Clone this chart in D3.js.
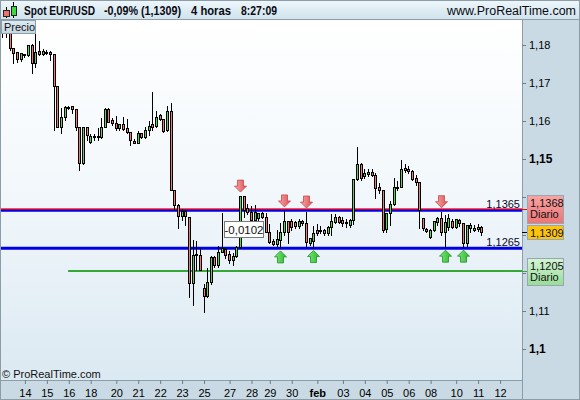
<!DOCTYPE html>
<html>
<head>
<meta charset="utf-8">
<script src="https://cdn.jsdelivr.net/npm/d3@7"></script>
<style>
	body { margin: 0; background: #fff; }
	svg { display: block; font-family: "Liberation Sans", Arial, sans-serif; }
</style>
</head>
<body>
<div id="chart"></div>
<script>
// 4h candles, EUR/USD
var opens = [1.1838,1.1838,1.1831,1.1791,1.1781,1.1762,1.1776,1.1773,1.1800,1.1752,1.1783,1.1776,1.1782,1.1781,1.1776,1.1692,1.1585,1.1611,1.1637,1.1639,
	1.1631,1.1585,1.1490,1.1583,1.1546,1.1560,1.1558,1.1557,1.1585,1.1631,1.1602,1.1594,1.1581,1.1592,1.1581,1.1572,1.1548,1.1543,1.1568,1.1557,
	1.1576,1.1591,1.1587,1.1616,1.1605,1.1576,1.1626,1.1418,1.1379,1.1349,1.1363,1.1347,1.1174,1.1247,1.1247,1.1161,1.1140,1.1177,1.1241,1.1221,
	1.1256,1.1263,1.1250,1.1234,1.1245,1.1269,1.1403,1.1371,1.1360,1.1339,1.1344,1.1359,1.1347,1.1309,1.1284,1.1276,1.1287,1.1309,1.1337,1.1336,
	1.1333,1.1324,1.1337,1.1332,1.1280,1.1284,1.1313,1.1310,1.1313,1.1305,1.1321,1.1334,1.1348,1.1339,1.1331,1.1327,1.1339,1.1447,1.1486,1.1456,
	1.1460,1.1467,1.1458,1.1425,1.1418,1.1316,1.1358,1.1381,1.1427,1.1427,1.1476,1.1474,1.1468,1.1451,1.1440,1.1344,1.1316,1.1296,1.1313,1.1334,
	1.1346,1.1309,1.1322,1.1337,1.1322,1.1339,1.1331,1.1278,1.1318,1.1314,1.1315,1.1320];
var highs = [1.1850,1.1852,1.1850,1.1792,1.1782,1.1779,1.1779,1.1800,1.1804,1.1844,1.1813,1.1791,1.1789,1.1787,1.1777,1.1692,1.1638,1.1642,1.1642,1.1642,
	1.1632,1.1586,1.1585,1.1584,1.1568,1.1568,1.1583,1.1611,1.1636,1.1636,1.1611,1.1616,1.1594,1.1613,1.1607,1.1573,1.1554,1.1576,1.1572,1.1587,
	1.1603,1.1679,1.1629,1.1620,1.1607,1.1642,1.1651,1.1419,1.1384,1.1371,1.1368,1.1349,1.1289,1.1287,1.1269,1.1174,1.1217,1.1247,1.1247,1.1274,
	1.1361,1.1269,1.1261,1.1256,1.1274,1.1405,1.1405,1.1384,1.1379,1.1382,1.1361,1.1362,1.1361,1.1331,1.1291,1.1316,1.1335,1.1366,1.1340,1.1344,
	1.1340,1.1344,1.1342,1.1363,1.1296,1.1326,1.1331,1.1326,1.1318,1.1327,1.1358,1.1357,1.1353,1.1350,1.1344,1.1345,1.1449,1.1534,1.1493,1.1476,
	1.1477,1.1476,1.1467,1.1440,1.1419,1.1360,1.1392,1.1453,1.1445,1.1500,1.1489,1.1484,1.1473,1.1460,1.1441,1.1346,1.1322,1.1318,1.1340,1.1349,
	1.1364,1.1354,1.1357,1.1345,1.1344,1.1345,1.1335,1.1328,1.1334,1.1328,1.1331,1.1326];
var lows = [1.1822,1.1820,1.1787,1.1752,1.1756,1.1758,1.1769,1.1772,1.1725,1.1743,1.1774,1.1774,1.1776,1.1761,1.1576,1.1583,1.1568,1.1603,1.1631,1.1620,
	1.1576,1.1471,1.1488,1.1550,1.1541,1.1550,1.1550,1.1554,1.1584,1.1597,1.1589,1.1576,1.1576,1.1576,1.1568,1.1537,1.1541,1.1541,1.1554,1.1554,
	1.1563,1.1576,1.1585,1.1602,1.1572,1.1574,1.1418,1.1366,1.1318,1.1339,1.1326,1.1137,1.1116,1.1208,1.1207,1.1097,1.1138,1.1172,1.1216,1.1216,
	1.1254,1.1239,1.1226,1.1221,1.1242,1.1266,1.1347,1.1355,1.1334,1.1329,1.1339,1.1344,1.1308,1.1278,1.1274,1.1271,1.1266,1.1300,1.1278,1.1313,
	1.1318,1.1318,1.1326,1.1271,1.1274,1.1267,1.1300,1.1305,1.1300,1.1300,1.1300,1.1331,1.1331,1.1324,1.1320,1.1322,1.1329,1.1445,1.1444,1.1449,
	1.1455,1.1454,1.1398,1.1411,1.1308,1.1308,1.1326,1.1379,1.1418,1.1425,1.1467,1.1463,1.1445,1.1432,1.1318,1.1313,1.1309,1.1291,1.1310,1.1326,
	1.1300,1.1268,1.1313,1.1318,1.1318,1.1324,1.1268,1.1272,1.1309,1.1310,1.1311,1.1300];
var closes = [1.1831,1.1831,1.1791,1.1780,1.1762,1.1778,1.1775,1.1800,1.1752,1.1782,1.1776,1.1784,1.1781,1.1776,1.1692,1.1585,1.1611,1.1636,1.1638,1.1631,
	1.1585,1.1490,1.1583,1.1563,1.1561,1.1559,1.1560,1.1585,1.1631,1.1598,1.1594,1.1581,1.1592,1.1580,1.1572,1.1550,1.1543,1.1568,1.1557,1.1576,
	1.1587,1.1585,1.1611,1.1604,1.1574,1.1626,1.1418,1.1379,1.1349,1.1363,1.1349,1.1174,1.1247,1.1249,1.1208,1.1140,1.1177,1.1241,1.1221,1.1256,
	1.1265,1.1247,1.1234,1.1245,1.1269,1.1403,1.1366,1.1360,1.1339,1.1361,1.1359,1.1347,1.1309,1.1282,1.1276,1.1290,1.1309,1.1337,1.1309,1.1322,
	1.1324,1.1338,1.1332,1.1282,1.1291,1.1304,1.1305,1.1314,1.1305,1.1321,1.1337,1.1348,1.1335,1.1331,1.1334,1.1339,1.1447,1.1486,1.1449,1.1462,
	1.1467,1.1458,1.1423,1.1418,1.1313,1.1358,1.1381,1.1427,1.1425,1.1473,1.1471,1.1468,1.1447,1.1440,1.1366,1.1318,1.1311,1.1313,1.1337,1.1344,
	1.1309,1.1333,1.1344,1.1322,1.1342,1.1331,1.1278,1.1325,1.1327,1.1318,1.1322,1.1309];

// day ticks (candle index) and their labels
var dayIdx = [6,12,18,24,31,37,43,49,55,62,68,73,79,86,93,99,105,111,117,124,130,136];
var dayLabels = ["14","15","16","18","20","21","22","23","25","27","28","29","30","feb","03","04","05","06","08","10","11","12"];

var priceTicks = [1.10,1.11,1.12,1.13,1.14,1.15,1.16,1.17,1.18];
var boldTicks = [1.10,1.14,1.15];

var channel = [1.1365, 1.1265];
var resistDaily = 1.1368, supportDaily = 1.1205, lastPrice = 1.1309;
var supportFrom = 17.8;		// candle index where the daily support starts
var redArrows = [65, 77, 83, 120];	// touches of the upper line
var greenArrows = [76, 85, 121, 126];	// touches of the lower line
var measure = { i: 60.5, price: 1.1338, text: "-0,0102" };

var header = [
	{ text: "Spot EUR/USD", x: 24, w: 71 },
	{ text: "-0,09% (1,1309)", x: 104, w: 77 },
	{ text: "4 horas", x: 191, w: 40 },
	{ text: "8:27:09", x: 241, w: 36 }
];

(function(d3) {

	var W = 580, H = 400;
	var plot = { l: 0, t: 20, r: 522, b: 380 };

	var x = d3.scaleLinear().domain([-0.82, 142]).range([plot.l, plot.r]);
	var y = d3.scaleLinear().domain([1.10, 1.18]).range([349, 45]);
	var fmt = function(v) { return (+(+v).toFixed(4)).toString().replace(".", ","); };
	var px = function(v) { return Math.round(v) + 0.5; };

	var candles = opens.map(function(o, i) {
		return { i: i, o: o, h: highs[i], l: lows[i], c: closes[i] };
	});

	// level boxes on the price panel (they cover the axis labels behind them)
	var boxes = [
		{ v: resistDaily, h: 28, fill: "url(#gRed)", lines: [fmt(resistDaily), "Diario"], tick: "#ff0000" },
		{ v: lastPrice, h: 14, fill: "#fcc40c", lines: [fmt(lastPrice)], tick: "#000" },
		{ v: supportDaily, h: 27, fill: "url(#gGreen)", lines: [fmt(supportDaily), "Diario"], tick: "#35a835" }
	];
	var hidden = function(v) {
		return boxes.some(function(b) { return Math.abs(y(v) - y(b.v)) < b.h / 2 + 5; });
	};

	var svg = d3.select("#chart").append("svg").attr("width", W).attr("height", H);
	var defs = svg.append("defs");

	function grad(id, stops, horiz) {
		var g = defs.append("linearGradient").attr("id", id)
			.attr("x1", 0).attr("y1", 0).attr("x2", horiz ? 1 : 0).attr("y2", horiz ? 0 : 1);
		stops.forEach(function(s) {
			g.append("stop").attr("offset", s[0]).attr("stop-color", s[1]);
		});
	}
	grad("gHead", [[0, "#eef7fb"], [1, "#cfe2eb"]]);
	grad("gPlot", [[0, "#ffffff"], [0.5, "#f1f7fb"], [1, "#dbe9f2"]]);
	grad("gRed", [[0, "#f7a4a4"], [1, "#ee7474"]]);
	grad("gGreen", [[0, "#d4f4d4"], [1, "#98dc98"]]);
	grad("gArrR", [[0, "#f5a8a8"], [1, "#de5252"]], true);
	grad("gArrG", [[0, "#7be87b"], [1, "#2fb82f"]], true);
	grad("gPrecio", [[0, "#dfecf3"], [1, "#c2d6e1"]]);

	// plot background
	svg.append("rect").attr("x", plot.l).attr("y", plot.t)
		.attr("width", plot.r - plot.l).attr("height", plot.b - plot.t).attr("fill", "url(#gPlot)");

	// channel lines + daily levels
	var lines = svg.append("g");
	lines.selectAll(".chan").data(channel).enter().append("line").classed("chan", true)
		.attr("x1", plot.l).attr("x2", plot.r)
		.attr("y1", function(d) { return y(d); }).attr("y2", function(d) { return y(d); })
		.attr("stroke", "#0000e6").attr("stroke-width", 3);
	lines.append("line").attr("x1", plot.l).attr("x2", plot.r + 6)
		.attr("y1", y(resistDaily)).attr("y2", y(resistDaily))
		.attr("stroke", "#ff0000").attr("stroke-width", 1.2);
	lines.append("line").attr("x1", x(supportFrom)).attr("x2", plot.r + 6)
		.attr("y1", y(supportDaily)).attr("y2", y(supportDaily))
		.attr("stroke", "#35a835").attr("stroke-width", 2);

	// candles
	var cg = svg.append("g").attr("shape-rendering", "crispEdges");
	var cx = function(d) { return Math.floor(x(d.i)) + 0.5; };
	cg.selectAll("line").data(candles).enter().append("line")
		.attr("x1", cx).attr("x2", cx)
		.attr("y1", function(d) { return px(y(d.h)); })
		.attr("y2", function(d) { return px(y(d.l)); })
		.attr("stroke", "#000");
	cg.selectAll("rect").data(candles).enter().append("rect")
		.attr("x", function(d) { return cx(d) - 1; })
		.attr("width", 2)
		.attr("y", function(d) { return px(y(Math.max(d.o, d.c))); })
		.attr("height", function(d) { return Math.max(1, px(y(Math.min(d.o, d.c))) - px(y(Math.max(d.o, d.c)))); })
		.attr("fill", function(d) { return d.c >= d.o ? "#4edb4e" : "#f07878"; })
		.attr("stroke", "#000").attr("stroke-width", 1);

	// arrows
	function downArrow(cxv, ty) {
		return "M" + (cxv - 3) + "," + (ty - 12) + "H" + (cxv + 3) + "V" + (ty - 6) + "H" + (cxv + 6) +
			"L" + cxv + "," + ty + "L" + (cxv - 6) + "," + (ty - 6) + "H" + (cxv - 3) + "Z";
	}
	function upArrow(cxv, ty) {
		return "M" + cxv + "," + ty + "L" + (cxv + 6) + "," + (ty + 6) + "H" + (cxv + 3) + "V" + (ty + 12) +
			"H" + (cxv - 3) + "V" + (ty + 6) + "H" + (cxv - 6) + "Z";
	}
	svg.append("g").selectAll("path").data(redArrows).enter().append("path")
		.attr("d", function(i) { return downArrow(Math.floor(x(i)) + 0.5, y(highs[i]) - 3); })
		.attr("fill", "url(#gArrR)").attr("stroke", "#c84848").attr("stroke-width", 0.8);
	svg.append("g").selectAll("path").data(greenArrows).enter().append("path")
		.attr("d", function(i) { return upArrow(Math.floor(x(i)) + 0.5, y(lows[i]) + 3); })
		.attr("fill", "url(#gArrG)").attr("stroke", "#239023").attr("stroke-width", 0.8);

	// measure tag
	var mg = svg.append("g").attr("transform", "translate(" + px(x(measure.i)) + "," + px(y(measure.price)) + ")");
	mg.append("rect").attr("width", 39).attr("height", 16).attr("fill", "#fff").attr("stroke", "#7a7a7a");
	mg.append("text").attr("x", 19.5).attr("y", 12.5).attr("text-anchor", "middle")
		.style("font-size", "11.5px").attr("fill", "#111").text(measure.text);

	// channel value labels
	svg.append("g").selectAll("text").data(channel).enter().append("text")
		.attr("x", plot.r - 2).attr("y", function(d) { return y(d) - 2.5; })
		.attr("text-anchor", "end").style("font-size", "11px").attr("fill", "#0a0a2a")
		.text(fmt);

	// "Precio" tag and copyright
	svg.append("rect").attr("x", 1.5).attr("y", 20.5).attr("width", 34).attr("height", 13)
		.attr("fill", "url(#gPrecio)").attr("stroke", "#8c9faa");
	svg.append("text").attr("x", 4).attr("y", 31).style("font-size", "11px").attr("fill", "#111").text("Precio");
	svg.append("text").attr("x", 2).attr("y", 378).style("font-size", "11px").attr("fill", "#111")
		.text("\u00a9 ProRealTime.com");

	// header
	svg.append("rect").attr("width", W).attr("height", 20).attr("fill", "url(#gHead)");
	svg.append("line").attr("x1", 0).attr("x2", W).attr("y1", 19.5).attr("y2", 19.5).attr("stroke", "#8d9da7");
	var icon = svg.append("g").attr("shape-rendering", "crispEdges");
	icon.append("line").attr("x1", 6.5).attr("x2", 6.5).attr("y1", 7).attr("y2", 18).attr("stroke", "#000");
	icon.append("rect").attr("x", 3.5).attr("y", 10.5).attr("width", 6).attr("height", 6).attr("fill", "#f07070").attr("stroke", "#222");
	icon.append("line").attr("x1", 13.5).attr("x2", 13.5).attr("y1", 2).attr("y2", 18).attr("stroke", "#000");
	icon.append("rect").attr("x", 11.5).attr("y", 6.5).attr("width", 5).attr("height", 9).attr("fill", "#3fd83f").attr("stroke", "#222");
	svg.append("g").selectAll("text").data(header).enter().append("text")
		.attr("x", function(d) { return d.x; }).attr("y", 15)
		.attr("textLength", function(d) { return d.w; }).attr("lengthAdjust", "spacingAndGlyphs")
		.style("font-size", "12.5px").style("font-weight", "bold").attr("fill", "#0a0a14")
		.text(function(d) { return d.text; });
	svg.append("text").attr("x", 447).attr("y", 15).attr("textLength", 129).attr("lengthAdjust", "spacingAndGlyphs")
		.style("font-size", "12px").attr("fill", "#0a0a14").text("www.ProRealTime.com");

	// right price panel
	svg.append("rect").attr("x", plot.r).attr("y", 20).attr("width", W - plot.r).attr("height", H - 20).attr("fill", "#c9dae4");
	svg.append("line").attr("x1", plot.r + 0.5).attr("x2", plot.r + 0.5).attr("y1", 20).attr("y2", H).attr("stroke", "#8d9da7");

	var yAxis = d3.axisRight(y).tickValues(priceTicks)
		.tickFormat(function(d) { return hidden(d) ? "" : fmt(d); }).tickSize(4).tickPadding(3);
	var gy = svg.append("g").attr("transform", "translate(" + plot.r + ",0)").call(yAxis);
	gy.select(".domain").remove();
	gy.selectAll("line").attr("stroke", "#6f7f89");
	gy.selectAll("text").attr("fill", "#000").style("font-family", "Liberation Sans, Arial, sans-serif")
		.style("font-size", function(d) { return boldTicks.indexOf(d) >= 0 ? "12px" : "11px"; })
		.style("font-weight", function(d) { return boldTicks.indexOf(d) >= 0 ? "bold" : "normal"; });

	var bx = svg.append("g").selectAll("g").data(boxes).enter().append("g");
	bx.append("line").attr("x1", plot.r).attr("x2", plot.r + 6)
		.attr("y1", function(d) { return px(y(d.v)); }).attr("y2", function(d) { return px(y(d.v)); })
		.attr("stroke", function(d) { return d.tick; });
	bx.append("rect").attr("x", 527.5).attr("width", 36)
		.attr("y", function(d) { return Math.round(y(d.v) - d.h / 2) + 0.5; })
		.attr("height", function(d) { return d.h; })
		.attr("fill", function(d) { return d.fill; }).attr("stroke", "#9aa6ad");
	bx.each(function(d) {
		var g = d3.select(this), top = Math.round(y(d.v) - d.h / 2);
		d.lines.forEach(function(t, k) {
			g.append("text").attr("x", 530).attr("y", top + 11.5 + k * 11.5)
				.style("font-size", "11px").attr("fill", "#111").text(t);
		});
	});

	// bottom time axis
	svg.append("rect").attr("x", 0).attr("y", plot.b).attr("width", plot.r).attr("height", H - plot.b).attr("fill", "#c9dae4");
	svg.append("line").attr("x1", 0).attr("x2", plot.r).attr("y1", plot.b + 0.5).attr("y2", plot.b + 0.5).attr("stroke", "#8d9da7");
	var xAxis = d3.axisBottom(x).tickValues(dayIdx)
		.tickFormat(function(d, i) { return dayLabels[i]; }).tickSize(4).tickPadding(5);
	var gx = svg.append("g").attr("transform", "translate(0," + plot.b + ")").call(xAxis);
	gx.select(".domain").remove();
	gx.selectAll("line").attr("stroke", "#6f7f89");
	gx.selectAll("text").attr("fill", "#000").style("font-family", "Liberation Sans, Arial, sans-serif")
		.style("font-size", "11px")
		.style("font-weight", function(d) { return dayLabels[dayIdx.indexOf(d)] === "feb" ? "bold" : "normal"; });

	// outer frame
	svg.append("rect").attr("x", 0.5).attr("y", 0.5).attr("width", W - 1).attr("height", H - 1)
		.attr("fill", "none").attr("stroke", "#8d9da7");

})(d3);
</script>
</body>
</html>
